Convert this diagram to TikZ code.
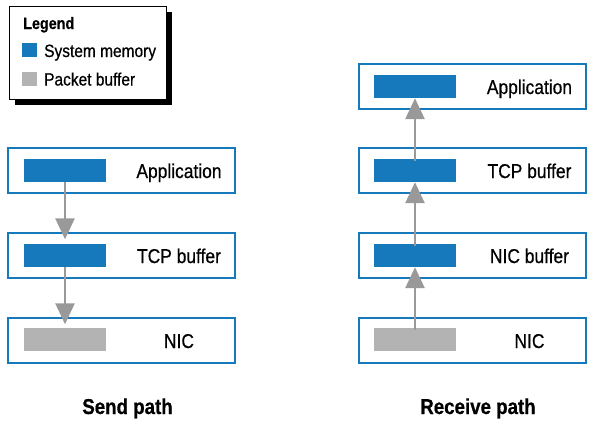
\documentclass[tikz,border=0pt]{standalone}
\usepackage{fontspec}
\setmainfont{Liberation Sans}[FakeStretch=0.87, FakeBold=0.6]
\usetikzlibrary{arrows.meta}
\definecolor{memblue}{HTML}{1679BB}
\definecolor{bufgray}{HTML}{B3B3B3}
\definecolor{flowgray}{HTML}{999999}

\begin{document}
\begin{tikzpicture}[x=1pt,y=-1pt,
  layerbox/.style={draw=memblue, line width=1.8pt, fill=white, inner sep=0pt,
    minimum width=227pt, minimum height=45.5pt},
  memrect/.style={fill=memblue, inner sep=0pt, minimum width=82pt, minimum height=23pt},
  pktrect/.style={fill=bufgray, inner sep=0pt, minimum width=82pt, minimum height=23pt},
  layertext/.style={anchor=base, inner sep=0pt, font=\fontsize{20}{22}\selectfont},
  pathtitle/.style={anchor=base, inner sep=0pt, font=\bfseries\fontsize{21.5}{24}\selectfont},
  keytext/.style={anchor=base west, inner sep=0pt, font=\fontsize{17.8}{20}\selectfont},
  flow/.style={draw=flowgray, line width=2.6pt, -{Triangle[width=19pt,length=21pt]}},
]
\useasboundingbox (0,0) rectangle (595,424);

% legend with drop shadow
\fill[black] (15,12) rectangle (171.5,104.5);
\node[draw=black, line width=1.3pt, fill=white, inner sep=0pt, anchor=north west,
  minimum width=157pt, minimum height=93pt] (legend) at (9,6) {};
\node[anchor=base west, inner sep=0pt, font=\bfseries\fontsize{16.5}{18}\selectfont] (legtitle) at (23,29) {Legend};
\node[fill=memblue, inner sep=0pt, minimum width=15pt, minimum height=14pt, anchor=north west] (keymem) at (22,43) {};
\node[keytext] (keymemtext) at (44,57) {System memory};
\node[fill=bufgray, inner sep=0pt, minimum width=15pt, minimum height=14pt, anchor=north west] (keypkt) at (22,72) {};
\node[keytext] (keypkttext) at (44,85.5) {Packet buffer};

% send path
\node[layerbox] (sapp) at (121.5,170.5) {};
\node[layerbox] (stcp) at (121.5,255.5) {};
\node[layerbox] (snic) at (121.5,340.5) {};
\node[memrect] (sappm) at (65,170.5) {};
\node[memrect] (stcpm) at (65,255.5) {};
\node[pktrect] (snicm) at (65,339.5) {};
\node[layertext] (sapptext) at (179,178) {Application};
\node[layertext] (stcptext) at (179,263) {TCP buffer};
\node[layertext] (snictext) at (179,348) {NIC};
\draw[flow, shorten >=4.5pt] (sappm.south) -- (stcpm.north);
\draw[flow, shorten >=3.5pt] (stcpm.south) -- (snicm.north);
\node[pathtitle] (sendtitle) at (127.5,414) {Send path};

% receive path
\node[layerbox] (rapp) at (472.5,86.5) {};
\node[layerbox] (rtcp) at (472.5,170.5) {};
\node[layerbox] (rnicb) at (472.5,255.5) {};
\node[layerbox] (rnic) at (472.5,340.5) {};
\node[memrect] (rappm) at (415,86.5) {};
\node[memrect] (rtcpm) at (415,170.5) {};
\node[memrect] (rnicbm) at (415,255.5) {};
\node[pktrect] (rnicm) at (415,339.5) {};
\node[layertext] (rapptext) at (529.5,94) {Application};
\node[layertext] (rtcptext) at (529.5,178) {TCP buffer};
\node[layertext] (rnicbtext) at (529.5,263) {NIC buffer};
\node[layertext] (rnictext) at (529.5,348) {NIC};
\draw[flow, shorten <=-2pt] (rnicm.north) -- (rnicbm.south);
\draw[flow, shorten <=-2pt] (rnicbm.north) -- (rtcpm.south);
\draw[flow, shorten <=-2pt] (rtcpm.north) -- (rappm.south);
\node[pathtitle] (recvtitle) at (478,414) {Receive path};
\end{tikzpicture}
\end{document}
